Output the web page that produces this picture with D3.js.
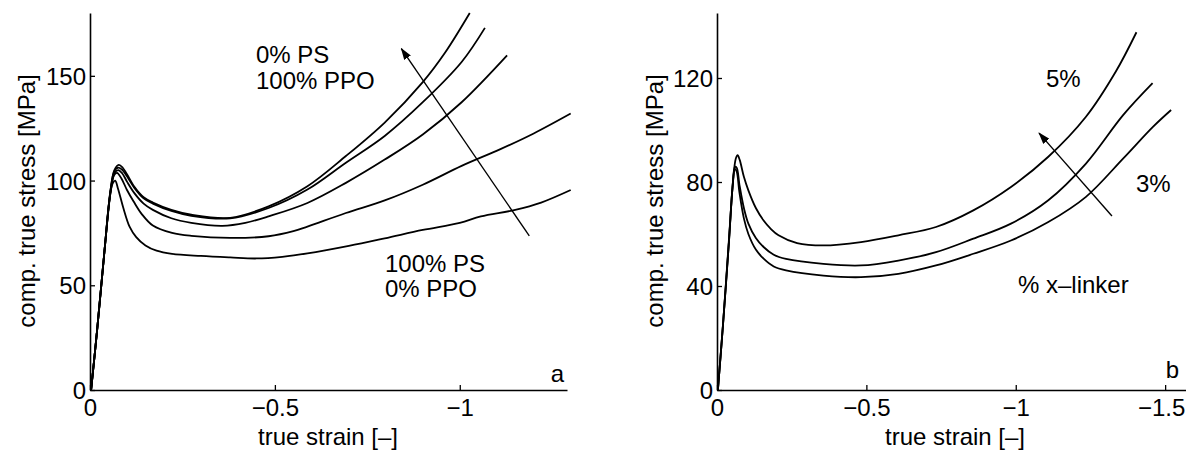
<!DOCTYPE html>
<html>
<head>
<meta charset="utf-8">
<script src="https://cdn.jsdelivr.net/npm/d3@7"></script>
<style>
  html, body { margin: 0; padding: 0; background: #fff; }
  svg text { font-family: "Liberation Sans", Arial, Helvetica, sans-serif; fill: #000; }
</style>
</head>
<body>
<svg id="chart" width="1186" height="452"></svg>
<script>
// ---------------- DATA (strain magnitude, stress in MPa) ----------------
// Panel a: PS/PPO blends
const a_ps100 = [[0.003,0],[0.02,30],[0.04,68],[0.052,90],[0.061,98.5],[0.068,100],[0.076,96],[0.09,87],[0.107,78],[0.125,73],[0.15,69],[0.18,66.5],[0.222,65],[0.3,64],[0.379,63.3],[0.45,62.8],[0.52,63.6],[0.588,65.2],[0.7,68.8],[0.797,72.4],[0.9,76.4],[1.0,79.8],[1.057,82.9],[1.15,86],[1.22,89.5],[1.3,95.5]];
const a_blend2 = [[0.003,0],[0.02,30],[0.04,68],[0.055,94],[0.065,102.5],[0.073,103.7],[0.085,101],[0.1,95.5],[0.118,90],[0.14,84],[0.17,78.5],[0.222,75],[0.274,73.6],[0.379,72.6],[0.483,73.4],[0.55,75.8],[0.588,78],[0.692,84.5],[0.797,90.5],[0.9,98],[1.005,107],[1.11,115],[1.2,122.5],[1.3,132]];
const a_blend3 = [[0.003,0],[0.02,30],[0.04,68],[0.056,95],[0.066,103.5],[0.076,105],[0.087,103.5],[0.1,99.5],[0.12,94],[0.145,89],[0.17,86],[0.22,82],[0.274,79.8],[0.358,78.4],[0.42,79.8],[0.483,82.9],[0.588,89.3],[0.692,98.9],[0.797,110],[0.9,122],[1.005,137.4],[1.128,159.8]];
const a_blend4 = [[0.003,0],[0.02,30],[0.04,68],[0.056,96],[0.066,104.5],[0.077,106.2],[0.088,105],[0.1,102],[0.12,96.5],[0.145,91.5],[0.17,89],[0.22,85.5],[0.274,83.2],[0.379,82],[0.483,86.9],[0.588,95.7],[0.692,108.5],[0.797,121.3],[0.9,137.4],[1.005,156.6],[1.068,172.9]];
const a_ppo100 = [[0.003,0],[0.02,30],[0.04,68],[0.056,96],[0.066,105],[0.078,107.5],[0.089,106],[0.1,103],[0.12,97],[0.145,92],[0.17,89.5],[0.22,86],[0.274,83.7],[0.379,82.2],[0.483,87.7],[0.588,97.3],[0.692,111.7],[0.797,127.7],[0.9,147],[0.96,161],[1.027,180]];
// Panel b: cross-linker content
const b_x5 = [[0.003,0],[0.02,25],[0.04,58],[0.055,82],[0.063,89],[0.069,90.3],[0.076,88.5],[0.09,82],[0.105,76.8],[0.13,70],[0.156,65.2],[0.18,62],[0.206,59.5],[0.268,56.5],[0.356,55.6],[0.482,56.9],[0.607,59.5],[0.733,62.7],[0.858,69.1],[0.984,78.1],[1.109,89.7],[1.235,105.1],[1.335,122.5],[1.404,137.6]];
const b_x4 = [[0.003,0],[0.02,25],[0.04,57],[0.052,78],[0.06,85.8],[0.066,85.5],[0.075,79],[0.09,70],[0.105,64],[0.13,58.5],[0.156,55],[0.19,52],[0.231,50.4],[0.356,48.5],[0.482,47.9],[0.607,49.8],[0.733,53],[0.858,58.2],[0.984,64],[1.109,73],[1.235,87.1],[1.36,105.8],[1.458,118]];
const b_x3 = [[0.003,0],[0.02,25],[0.04,57],[0.052,78],[0.06,85],[0.066,84],[0.075,76],[0.09,66],[0.105,60],[0.13,54],[0.156,50.5],[0.19,47.5],[0.231,46],[0.356,44],[0.482,43.4],[0.607,44.7],[0.733,47.9],[0.858,52.4],[0.984,57.5],[1.109,64.6],[1.235,74.3],[1.36,89.1],[1.46,101.3],[1.52,107.7]];

const xTicksA = [0, -0.5, -1];
const yTicksA = [0, 50, 100, 150];
const xTicksB = [0, -0.5, -1, -1.5];
const yTicksB = [0, 40, 80, 120];

const xLabel = "true strain [–]";
const yLabel = "comp. true stress [MPa]";

// arrows in data coordinates: [strain magnitude, stress]
const arrowA = [[1.188, 73.6], [0.842, 163]];
const arrowB = [[1.322, 66.9], [1.078, 98.8]];

// ---------------- DRAW ----------------
const svg = d3.select("#chart");
const FONT = 24;

svg.append("defs").append("marker")
  .attr("id", "ah").attr("viewBox", "0 0 12 8")
  .attr("refX", 11).attr("refY", 4)
  .attr("markerWidth", 12).attr("markerHeight", 8)
  .attr("markerUnits", "userSpaceOnUse")
  .attr("orient", "auto")
  .append("path").attr("d", "M0,0 L12,4 L0,8 Z").attr("fill", "#000");

function panel(opts) {
  const x = d3.scaleLinear().domain([0, -opts.xmax]).range(opts.xr);
  const y = d3.scaleLinear().domain([0, opts.ymax]).range(opts.yr);
  const g = svg.append("g");
  const fmt = d => d === 0 ? "0" : d3.format("")(d);

  const xa = g.append("g").attr("transform", `translate(0,${opts.yr[0]})`)
    .call(d3.axisBottom(x).tickValues(opts.xt).tickFormat(fmt).tickSize(-5).tickSizeOuter(0).tickPadding(9));
  const ya = g.append("g").attr("transform", `translate(${opts.xr[0]},0)`)
    .call(d3.axisLeft(y).tickValues(opts.yt).tickFormat(fmt).tickSize(-5).tickSizeOuter(0).tickPadding(4));
  [xa, ya].forEach(a => {
    a.selectAll(".domain").attr("stroke", "#000").attr("stroke-width", 1.6);
    a.selectAll(".tick line").attr("stroke", "#000").attr("stroke-width", 1.3);
    a.selectAll("text").attr("font-size", FONT).attr("font-family", null);
  });
  ya.selectAll("text").attr("dy", "0.36em");
  if (opts.lastShift) {
    xa.selectAll(".tick text").filter((d, i, n) => i === n.length - 1).attr("dx", opts.lastShift);
  }

  const line = d3.line().x(d => x(-d[0])).y(d => y(d[1])).curve(d3.curveCatmullRom.alpha(0.5));
  opts.series.forEach(s => {
    g.append("path").datum(s).attr("d", line)
      .attr("fill", "none").attr("stroke", "#000").attr("stroke-width", 1.8)
      .attr("stroke-linejoin", "round");
  });

  g.append("line")
    .attr("x1", x(-opts.arrow[0][0])).attr("y1", y(opts.arrow[0][1]))
    .attr("x2", x(-opts.arrow[1][0])).attr("y2", y(opts.arrow[1][1]))
    .attr("stroke", "#000").attr("stroke-width", 1.4).attr("marker-end", "url(#ah)");

  g.append("text").attr("x", opts.xlabX).attr("y", 445).attr("text-anchor", "middle")
    .attr("font-size", FONT).text(xLabel);
  g.append("text").attr("transform", `translate(${opts.ylabX},201) rotate(-90)`)
    .attr("text-anchor", "middle").attr("font-size", FONT).text(yLabel);

  opts.texts.forEach(t => {
    g.append("text").attr("x", t[0]).attr("y", t[1]).attr("font-size", FONT)
      .attr("text-anchor", t[3] || "start").text(t[2]);
  });
}

panel({
  xmax: 1.29, ymax: 180, xr: [90, 567], yr: [390, 13],
  xt: xTicksA, yt: yTicksA,
  series: [a_ps100, a_blend2, a_blend3, a_blend4, a_ppo100],
  arrow: arrowA, xlabX: 328, ylabX: 35,
  texts: [[256, 63, "0% PS"], [256, 89, "100% PPO"], [385, 272, "100% PS"], [385, 297, "0% PPO"], [564, 382, "a", "end"]]
});

panel({
  xmax: 1.6, ymax: 145, xr: [717, 1195], yr: [390, 13],
  xt: xTicksB, yt: yTicksB,
  series: [b_x5, b_x4, b_x3],
  arrow: arrowB, xlabX: 955, ylabX: 663,
  lastShift: -4,
  texts: [[1046, 87, "5%"], [1136, 192, "3%"], [1018, 293, "% x–linker"], [1179, 378, "b", "end"]]
});
</script>
</body>
</html>
